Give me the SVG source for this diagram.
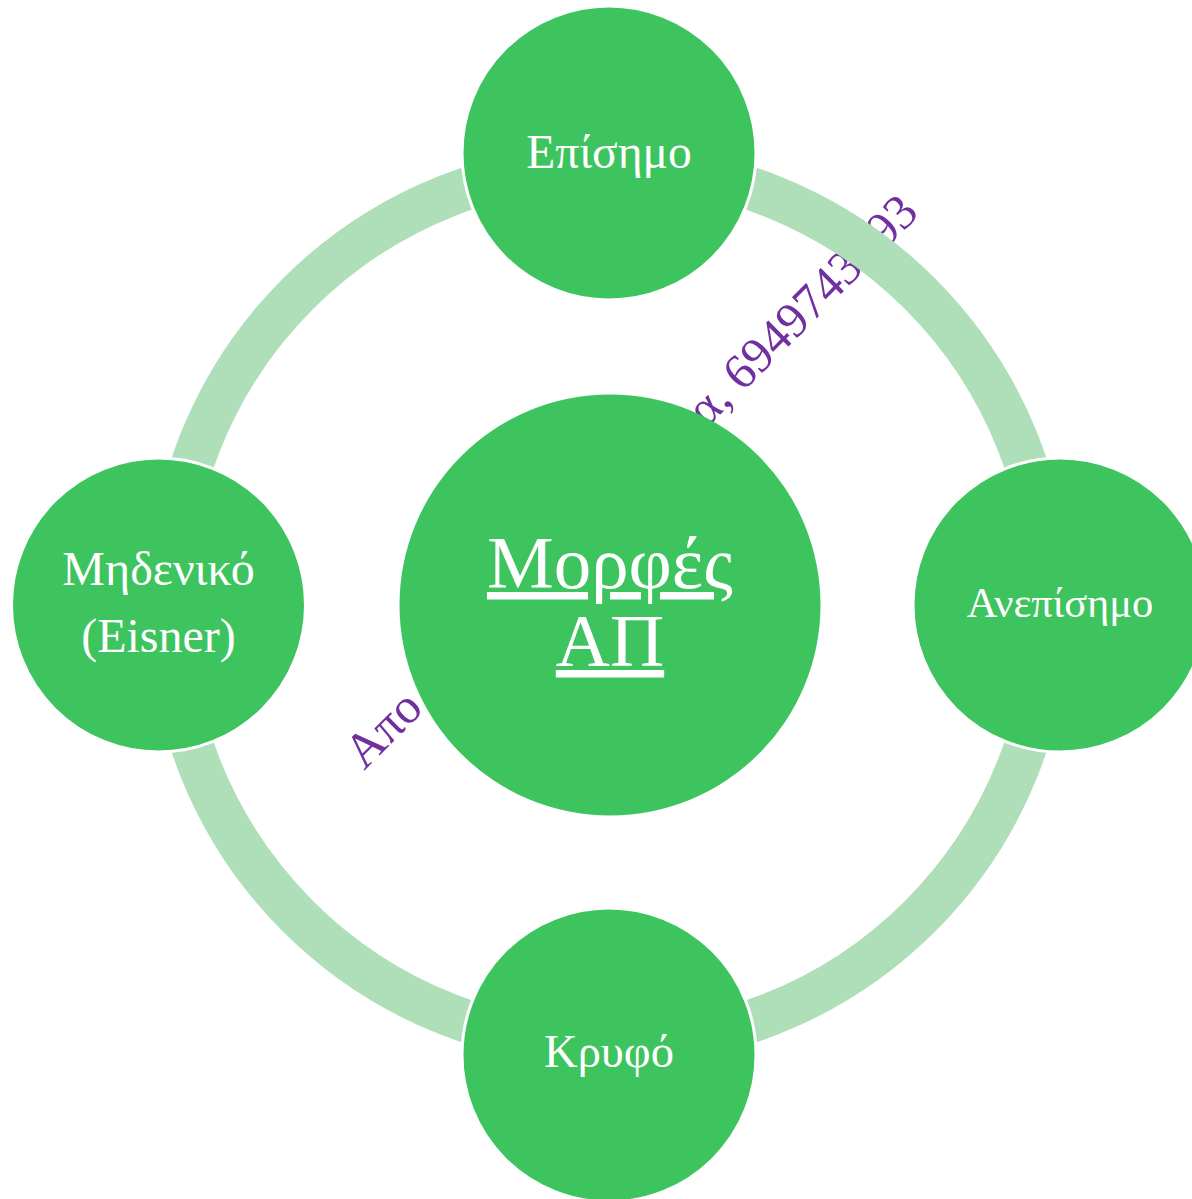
<svg xmlns="http://www.w3.org/2000/svg" width="1192" height="1199" viewBox="0 0 1192 1199">
<style>
.node{fill:#3DC45E;stroke:#FFFFFF;stroke-width:3}
.lbl{font-family:"Liberation Serif","Times New Roman",serif;fill:#FFFFFF;text-anchor:middle}
.wm{font-family:"Liberation Serif","Times New Roman",serif;fill:#7030A0;font-size:49.5px}
</style>
<rect width="1192" height="1199" fill="#FFFFFF"/>
<g id="watermark" transform="translate(370,765) rotate(-45)">
<text class="wm" x="-8" y="0">Απο</text>
<text class="wm" x="476" y="0">α, 6949743</text>
<text class="wm" x="729" y="0">93</text>
</g>
<g id="connectors">
<circle cx="609" cy="605" r="440" fill="none" stroke="#AEDFB8" stroke-width="43"/>
</g>
<g id="center">
<circle cx="610" cy="605" r="210.5" fill="#3DC45E"/>
<text class="lbl" x="610" y="588" font-size="75" text-decoration="underline">Μορφές</text>
<text class="lbl" x="610" y="666" font-size="75" text-decoration="underline">ΑΠ</text>
</g>
<g id="n-top">
<circle class="node" cx="609" cy="153" r="147"/>
<text class="lbl" x="609" y="168" font-size="47.5">Επίσημο</text>
</g>
<g id="n-right">
<circle class="node" cx="1060" cy="605" r="147"/>
<text class="lbl" x="1060" y="617" font-size="42.5">Ανεπίσημο</text>
</g>
<g id="n-bottom">
<circle class="node" cx="609" cy="1055" r="147"/>
<text class="lbl" x="609" y="1067" font-size="46.5">Κρυφό</text>
</g>
<g id="n-left">
<circle class="node" cx="158.5" cy="605" r="147"/>
<text class="lbl" x="158.5" y="585" font-size="48">Μηδενικό</text>
<text class="lbl" x="158.5" y="652" font-size="48">(Eisner)</text>
</g>
</svg>
